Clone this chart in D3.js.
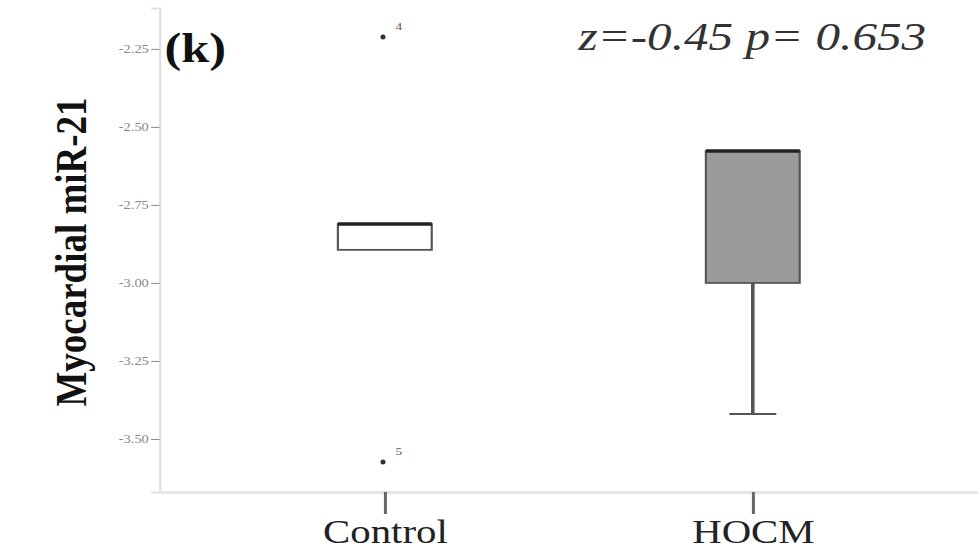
<!DOCTYPE html>
<html>
<head>
<meta charset="utf-8">
<script src="https://cdn.jsdelivr.net/npm/d3@7"></script>
<style>
  html, body { margin: 0; padding: 0; background: #fff; overflow: hidden; }
  svg { display: block; }
</style>
</head>
<body>
<div class="chart"></div>
<script>
// data
var groups = ["Control", "HOCM"];
var q1 = [-2.894, -3.000];
var median = [-2.811, -2.577];
var q3 = [-2.811, -2.577];
var whiskerLow = [-2.894, -3.420];
var whiskerHigh = [-2.811, -2.577];
var boxFill = ["#ffffff", "#9b9b9b"];
var outlierGroup = ["Control", "Control"];
var outlierValue = [-2.212, -3.574];
var outlierId = ["4", "5"];
var yTicks = [-2.25, -2.50, -2.75, -3.00, -3.25, -3.50];

var serif = "'Liberation Serif', 'Times New Roman', 'DejaVu Serif', serif";

var svgWidth = 978;
var svgHeight = 553;
// the picture is stretched sideways, so draw in a narrower space and scale x
var innerWidth = 815;
var sx = svgWidth / innerWidth;

var margin = { top: 8, right: 0, bottom: 61, left: 133 };
var height = svgHeight - margin.bottom;

var svg = d3.select(".chart")
  .append("svg")
  .attr("width", svgWidth)
  .attr("height", svgHeight);

var g = svg.append("g")
  .attr("transform", `scale(${sx}, 1)`);

var xScale = d3.scalePoint()
  .domain(groups)
  .range([margin.left, innerWidth])
  .padding(0.612);

var yScale = d3.scaleLinear()
  .domain([-3.670, -2.119])
  .range([height, margin.top]);

var boxW = xScale.step() * 0.255;

// y axis
var yAxis = g.append("g")
  .attr("transform", `translate(${margin.left}, 0)`)
  .call(d3.axisLeft(yScale).tickValues(yTicks).tickSize(7).tickPadding(2)
    .tickFormat(d => d.toFixed(2)));
yAxis.select(".domain").attr("stroke", "#e2e2e2").attr("stroke-width", 2);
yAxis.selectAll(".tick line").attr("stroke", "#888").attr("stroke-width", 1);
yAxis.selectAll(".tick text")
  .attr("fill", "#888")
  .style("font-family", serif)
  .style("font-size", "12px");

// x axis
var xAxis = g.append("g")
  .attr("transform", `translate(0, ${height})`)
  .call(d3.axisBottom(xScale).tickSize(22).tickSizeOuter(0));
xAxis.select(".domain").attr("stroke", "#e6e6e6").attr("stroke-width", 3);
xAxis.selectAll(".tick line").attr("stroke", "#666").attr("stroke-width", 2.5);
xAxis.selectAll(".tick text")
  .attr("fill", "#222")
  .attr("y", 51)
  .attr("dy", 0)
  .style("font-family", serif)
  .style("font-size", "34px");

var boxes = groups.map((d, i) => ({
  name: d, q1: q1[i], median: median[i], q3: q3[i],
  lo: whiskerLow[i], hi: whiskerHigh[i], fill: boxFill[i]
}));

var boxGroup = g.selectAll(".box")
  .data(boxes)
  .enter()
  .append("g")
  .attr("class", "box");

// whiskers
boxGroup.filter(d => d.lo < d.q1)
  .append("line")
  .attr("x1", d => xScale(d.name))
  .attr("x2", d => xScale(d.name))
  .attr("y1", d => yScale(d.q1))
  .attr("y2", d => yScale(d.lo))
  .attr("stroke", "#555")
  .attr("stroke-width", 3);
boxGroup.filter(d => d.lo < d.q1)
  .append("line")
  .attr("x1", d => xScale(d.name) - boxW / 4)
  .attr("x2", d => xScale(d.name) + boxW / 4)
  .attr("y1", d => yScale(d.lo))
  .attr("y2", d => yScale(d.lo))
  .attr("stroke", "#555")
  .attr("stroke-width", 2);

boxGroup.append("rect")
  .attr("x", d => xScale(d.name) - boxW / 2)
  .attr("width", boxW)
  .attr("y", d => yScale(d.q3))
  .attr("height", d => yScale(d.q1) - yScale(d.q3))
  .attr("fill", d => d.fill)
  .attr("stroke", "#555")
  .attr("stroke-width", 1.8);

// median
boxGroup.append("line")
  .attr("x1", d => xScale(d.name) - boxW / 2)
  .attr("x2", d => xScale(d.name) + boxW / 2)
  .attr("y1", d => yScale(d.median))
  .attr("y2", d => yScale(d.median))
  .attr("stroke", "#222")
  .attr("stroke-width", 3.5);

// outliers
var outliers = outlierValue.map((v, i) => ({ name: outlierGroup[i], v: v, id: outlierId[i] }));
g.selectAll(".outlier")
  .data(outliers)
  .enter()
  .append("ellipse")
  .attr("class", "outlier")
  .attr("cx", d => xScale(d.name) - 1.5)
  .attr("cy", d => yScale(d.v))
  .attr("rx", 2.5 / sx)
  .attr("ry", 2.5)
  .attr("fill", "#333");
g.selectAll(".outlierLabel")
  .data(outliers)
  .enter()
  .append("text")
  .attr("x", d => xScale(d.name) + 9)
  .attr("y", d => yScale(d.v) - 7)
  .attr("fill", "#555")
  .style("font-family", serif)
  .style("font-size", "11px")
  .text(d => d.id);

// y label
g.append("text")
  .attr("transform", `translate(72, ${(margin.top + height) / 2 + 2}) rotate(-90)`)
  .attr("text-anchor", "middle")
  .attr("fill", "#111")
  .style("font-family", serif)
  .style("font-weight", "bold")
  .style("font-size", "37px")
  .text("Myocardial miR-21");

// panel letter
g.append("text")
  .attr("x", 137)
  .attr("y", 62)
  .attr("fill", "#111")
  .style("font-family", serif)
  .style("font-weight", "bold")
  .style("font-size", "42px")
  .text("(k)");

// test statistic
g.append("text")
  .attr("x", 482)
  .attr("y", 50)
  .attr("fill", "#333")
  .style("font-family", serif)
  .style("font-style", "italic")
  .style("font-size", "41px")
  .text("z=-0.45 p= 0.653");
</script>
</body>
</html>
